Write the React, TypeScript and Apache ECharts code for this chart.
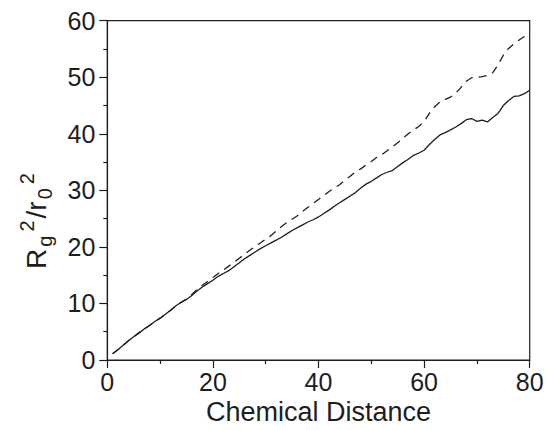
import React, { useEffect, useRef } from "react";
import * as echarts from "echarts";

// Chemical distance (x values shared by both curves)
const chemicalDistance: number[] = Array.from({ length: 80 }, (_, i) => i + 1);

// Solid curve: Rg^2/r0^2
const solidValues: number[] = [
  1.1, 1.8, 2.6, 3.4, 4.1, 4.8, 5.5, 6.1, 6.8, 7.4,
  8.1, 8.8, 9.6, 10.2, 10.7, 11.4, 12.2, 12.9, 13.5, 14.1,
  14.8, 15.3, 15.8, 16.5, 17.2, 17.9, 18.5, 19.1, 19.7, 20.2,
  20.7, 21.2, 21.7, 22.3, 22.9, 23.4, 23.9, 24.4, 24.8, 25.3,
  25.9, 26.5, 27.2, 27.8, 28.4, 29.0, 29.6, 30.4, 31.1, 31.6,
  32.2, 32.8, 33.2, 33.5, 34.2, 34.9, 35.5, 36.2, 36.6, 37.1,
  38.1, 39.0, 39.8, 40.2, 40.7, 41.2, 41.8, 42.5, 42.7, 42.2,
  42.4, 42.1, 42.9, 43.6, 45.0, 45.9, 46.6, 46.7, 47.1, 47.7,
];

// Dashed curve
const dashedValues: number[] = [
  1.1, 1.8, 2.6, 3.4, 4.1, 4.8, 5.5, 6.1, 6.8, 7.4,
  8.1, 8.8, 9.6, 10.2, 10.8, 11.6, 12.5, 13.2, 13.9, 14.6,
  15.3, 15.9, 16.6, 17.3, 18.0, 18.7, 19.4, 20.1, 20.7, 21.4,
  22.0, 22.8, 23.6, 24.3, 24.9, 25.5, 26.3, 27.0, 27.7, 28.4,
  29.1, 29.8, 30.4, 31.0, 31.8, 32.5, 33.3, 33.8, 34.5, 35.1,
  35.8, 36.3, 37.0, 37.7, 38.4, 39.2, 40.0, 40.7, 41.3, 42.2,
  43.6, 44.8, 45.6, 46.1, 46.5, 47.2, 48.2, 49.3, 49.9, 50.0,
  50.1, 50.3, 50.8, 52.2, 53.9, 55.1, 55.9, 56.6, 57.2, 57.9,
];

const xAxisName = "Chemical Distance";
const xRange = { min: 0, max: 80, interval: 20 };
const yRange = { min: 0, max: 60, interval: 10 };

export default function App() {
  const ref = useRef<HTMLDivElement>(null);

  useEffect(() => {
    if (!ref.current) return;
    const chart = echarts.init(ref.current, undefined, { renderer: "svg" });
    const ink = "#1e1e1e";
    const font = "Liberation Sans";
    const solidData = chemicalDistance.map((x, i) => [x, solidValues[i]]);
    const dashedData = chemicalDistance.map((x, i) => [x, dashedValues[i]]);

    chart.setOption({
      animation: false,
      backgroundColor: "#ffffff",
      grid: {
        left: 107.3,
        right: 24.3,
        top: 20.7,
        bottom: 70,
        show: true,
        borderColor: ink,
        borderWidth: 1.2,
        containLabel: false,
        outerBoundsMode: "none",
      },
      xAxis: {
        type: "value",
        min: xRange.min,
        max: xRange.max,
        interval: xRange.interval,
        name: xAxisName,
        nameLocation: "middle",
        nameGap: 36,
        nameTextStyle: { fontFamily: font, fontSize: 27, color: ink },
        axisLine: { show: true, lineStyle: { color: ink, width: 1.2 } },
        axisTick: { show: true, inside: false, length: 8, lineStyle: { color: ink, width: 1.2 } },
        minorTick: { show: true, splitNumber: 2, length: 4, lineStyle: { color: ink, width: 1.2 } },
        axisLabel: { fontFamily: font, fontSize: 25, color: ink, margin: 9 },
        splitLine: { show: false },
      },
      yAxis: {
        type: "value",
        min: yRange.min,
        max: yRange.max,
        interval: yRange.interval,
        axisLine: { show: true, lineStyle: { color: ink, width: 1.2 } },
        axisTick: { show: true, inside: false, length: 8, lineStyle: { color: ink, width: 1.2 } },
        minorTick: { show: true, splitNumber: 2, length: 4, lineStyle: { color: ink, width: 1.2 } },
        axisLabel: { fontFamily: font, fontSize: 25, color: ink, margin: 12 },
        splitLine: { show: false },
      },
      graphic: [
        {
          type: "text",
          x: 36,
          y: 220,
          rotation: Math.PI / 2,
          style: {
            text: "{b|R}{sub|g}{sup|2}{b|/r}{sub|0}{sup|2}",
            align: "center",
            verticalAlign: "middle",
            fill: ink,
            rich: {
              b: { fontFamily: font, fontSize: 28, lineHeight: 38, fill: ink },
              sup: { fontFamily: font, fontSize: 20, lineHeight: 20, verticalAlign: "top", padding: [0, 2], fill: ink },
              sub: { fontFamily: font, fontSize: 20, lineHeight: 20, verticalAlign: "bottom", padding: [0, 2], fill: ink },
            },
          },
        },
      ],
      series: [
        {
          type: "line",
          data: dashedData,
          showSymbol: false,
          symbol: "none",
          lineStyle: { color: ink, width: 1.3, type: [8, 6] },
          z: 2,
        },
        {
          type: "line",
          data: solidData,
          showSymbol: false,
          symbol: "none",
          lineStyle: { color: ink, width: 1.3, type: "solid" },
          z: 3,
        },
      ],
    });

    return () => chart.dispose();
  }, []);

  return (
    <div
      ref={ref}
      style={{ position: "fixed", left: 0, top: 0, width: 554, height: 430 }}
    />
  );
}
